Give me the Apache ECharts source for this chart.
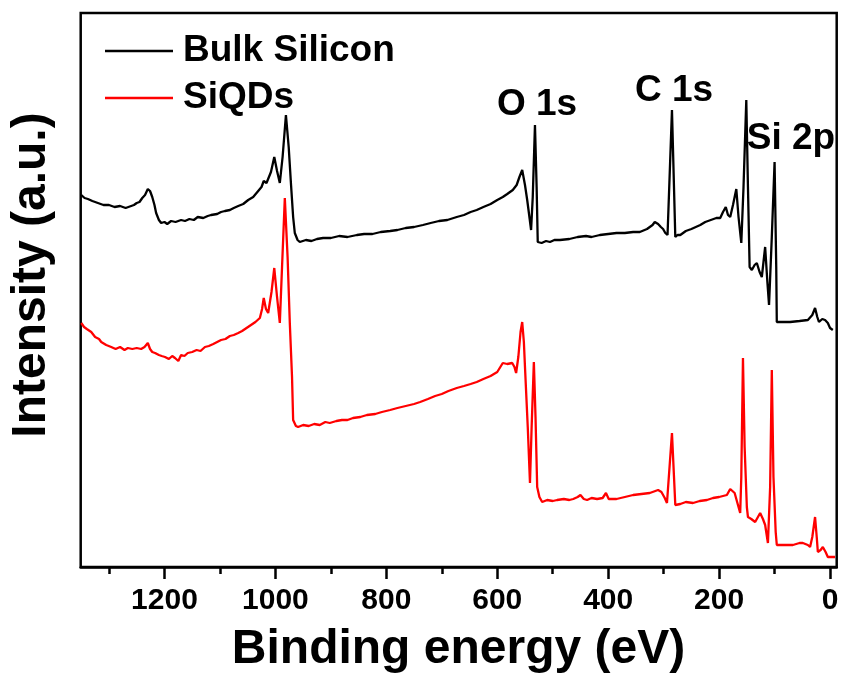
<!DOCTYPE html>
<html>
<head>
<meta charset="utf-8">
<script src="https://cdn.jsdelivr.net/npm/echarts@6/dist/echarts.min.js"></script>
<style>
html,body{margin:0;padding:0;background:#fff;}
#chart{width:841px;height:678px;}
</style>
</head>
<body>
<div id="chart"></div>
<script>
// Binding energy (eV) and intensity (a.u.)
const bulkEnergy = [1350,1344,1338,1330,1320,1310,1300,1290,1280,1270,1260,1255,1250,1245,1240,1235,1230,1226,1222,1218,1215,1210,1206,1200,1195,1188,1180,1170,1163,1155,1147,1140,1130,1122,1116,1105,1098,1091,1082,1075,1067,1058,1049,1040,1031,1025,1021,1019,1016,1013,1008,1002,997,992,987,981,976,972,968,965,960,956,945,935,925,914,900,885,870,853,840,825,810,793,780,765,750,734,720,705,690,673,660,648,637,625,612,600,590,582,572,565,560,555,550,546,542,539,536,532,529,527,520,512,505,497,487,470,455,440,430,415,400,385,370,355,343,330,320,316,310,305,301,297,293,285,279,275,270,260,250,242,234,225,215,205,198,193,188,184,180,175,169,165,160,156,151,148,145,141,136,132,127,123,120,117,113,110,105,100,97,96,85,72,55,40,32,27,23,20,14,9,4,0,-5];
const bulkIntensity = [372,369,368,366,364,362,362,360,361,359,361,362,364,365,369,372,378,376,370,362,354,347,344,345,343,346,345,347,346,348,347,350,349,351,352,353,355,356,357,359,361,363,367,370,376,380,386,388,384,385,395,410,396,384,410,452,420,384,350,334,327,325,327,326,328,329,329,331,330,332,333,333,335,336,337,339,340,342,344,346,347,350,352,355,357,360,363,367,370,373,377,382,390,397,382,367,350,337,370,442,380,325,324,326,325,327,327,328,330,331,330,332,333,334,334,335,335,338,342,345,343,340,338,334,332,457,330,332,332,336,338,340,342,345,347,349,349,355,360,352,350,362,378,350,324,380,467,380,300,297,302,304,295,290,305,320,285,262,330,405,300,245,245,245,246,247,252,259,250,245,248,247,244,239,237];

const qdEnergy = [1350,1345,1340,1332,1325,1318,1314,1305,1296,1288,1280,1272,1266,1258,1250,1242,1236,1230,1226,1222,1217,1210,1205,1199,1192,1186,1181,1175,1170,1164,1158,1150,1142,1135,1127,1120,1112,1105,1098,1090,1082,1075,1067,1060,1052,1044,1036,1028,1024,1021,1017,1013,1007,1002,997,992,988,983,978,974,970,968,963,959,950,940,930,920,910,902,890,880,870,860,847,835,820,808,793,780,765,750,739,725,712,700,688,673,660,648,637,625,612,600,590,582,573,569,566,562,558,555,552,550,545,541,538,534,531,528,524,519,510,500,492,480,470,463,455,450,447,444,438,430,420,410,404,402,399,397,385,370,355,340,325,315,310,304,298,294,285,279,270,260,247,235,222,211,200,193,186,180,177,172,166,162,160,157,154,150,148,142,135,130,126,121,117,112,108,105,102,98,96,80,67,55,49,40,36,32,27,24,22,17,13,8,4,-9];
const qdIntensity = [244,240,238,235,230,228,225,222,220,218,220,217,219,218,219,218,220,224,218,215,214,212,211,210,208,211,209,206,212,211,214,215,217,216,220,221,223,225,227,228,231,232,234,236,239,242,245,249,258,269,258,254,275,299,270,244,300,369,310,244,190,147,141,140,142,141,143,142,145,144,146,147,147,149,150,152,153,155,157,159,161,163,165,168,171,173,176,179,181,183,185,188,191,195,204,203,204,200,194,210,235,245,225,200,140,84,140,205,150,80,70,65,67,66,67,68,67,68,70,72,74,68,67,69,68,69,74,75,68,67,68,70,72,73,74,76,77,75,69,64,134,62,63,65,64,66,67,69,70,71,72,78,80,74,62,54,90,209,120,60,50,48,45,50,54,48,42,24,80,197,90,35,22,22,22,24,24,22,20,30,50,30,15,17,20,15,10,10];

const majorTicks = [0,200,400,600,800,1000,1200];
const minorTicks = [100,300,500,700,900,1100,1300];
const seriesNames = ['Bulk Silicon','SiQDs'];
const peakLabels = ['O 1s','C 1s','Si 2p'];

function zip(xs, ys){ return xs.map((x,i)=>[x, ys[i]]); }

const chart = echarts.init(document.getElementById('chart'), null, {renderer:'canvas'});
const FONT = 'Liberation Sans, Arial, sans-serif';
const xCommon = {type:'value', inverse:true, min:-12, max:1351, splitLine:{show:false}};

chart.setOption({
  animation:false,
  backgroundColor:'#fff',
  grid:{left:80.7, right:4.3, top:13, bottom:111, containLabel:false, outerBoundsMode:'none', show:true, borderColor:'#000', borderWidth:2.5, backgroundColor:'transparent'},
  legend:{
    data:seriesNames, orient:'vertical', left:105, top:31, padding:0,
    icon:'rect', itemWidth:68, itemHeight:2.5, itemGap:7,
    textStyle:{fontSize:37, fontWeight:'bold', color:'#000', fontFamily:FONT, lineHeight:40, padding:[0,0,0,5]}
  },
  xAxis:[
    Object.assign({}, xCommon, {
      position:'bottom',
      axisLine:{show:true, onZero:false, lineStyle:{color:'#000', width:2.5}},
      axisTick:{show:true, inside:false, length:12, customValues:majorTicks, lineStyle:{color:'#000', width:2.5}},
      axisLabel:{show:true, customValues:majorTicks, formatter:function(v){return String(v);}, margin:19, fontSize:30, fontWeight:'bold', color:'#000', fontFamily:FONT}
    }),
    Object.assign({}, xCommon, {
      position:'bottom',
      axisLine:{show:false, onZero:false},
      axisTick:{show:true, inside:false, length:7, customValues:minorTicks, lineStyle:{color:'#000', width:2.5}},
      axisLabel:{show:false}
    })
  ],
  yAxis:{type:'value', min:0, max:554, axisLine:{show:false, onZero:false}, axisTick:{show:false}, axisLabel:{show:false}, splitLine:{show:false}},
  series:[
    {name:seriesNames[0], type:'line', xAxisIndex:0, data:zip(bulkEnergy,bulkIntensity), showSymbol:false, symbol:'none', lineStyle:{color:'#000', width:2.3}, itemStyle:{color:'#000'}},
    {name:seriesNames[1], type:'line', xAxisIndex:0, data:zip(qdEnergy,qdIntensity), showSymbol:false, symbol:'none', lineStyle:{color:'#ff0000', width:2.3}, itemStyle:{color:'#ff0000'}}
  ],
  graphic:[
    {type:'text', x:458.5, y:650, style:{text:'Binding energy (eV)', align:'center', verticalAlign:'middle', font:'bold 48px ' + FONT, fill:'#000'}},
    {type:'text', x:31.5, y:275, rotation:Math.PI/2, style:{text:'Intensity (a.u.)', align:'center', verticalAlign:'middle', font:'bold 48px ' + FONT, fill:'#000'}},
    {type:'text', x:537, y:105, style:{text:peakLabels[0], align:'center', verticalAlign:'middle', font:'bold 37px ' + FONT, fill:'#000'}},
    {type:'text', x:674, y:91, style:{text:peakLabels[1], align:'center', verticalAlign:'middle', font:'bold 37px ' + FONT, fill:'#000'}},
    {type:'text', x:791, y:139, style:{text:peakLabels[2], align:'center', verticalAlign:'middle', font:'bold 37px ' + FONT, fill:'#000'}}
  ]
});
</script>
</body>
</html>
